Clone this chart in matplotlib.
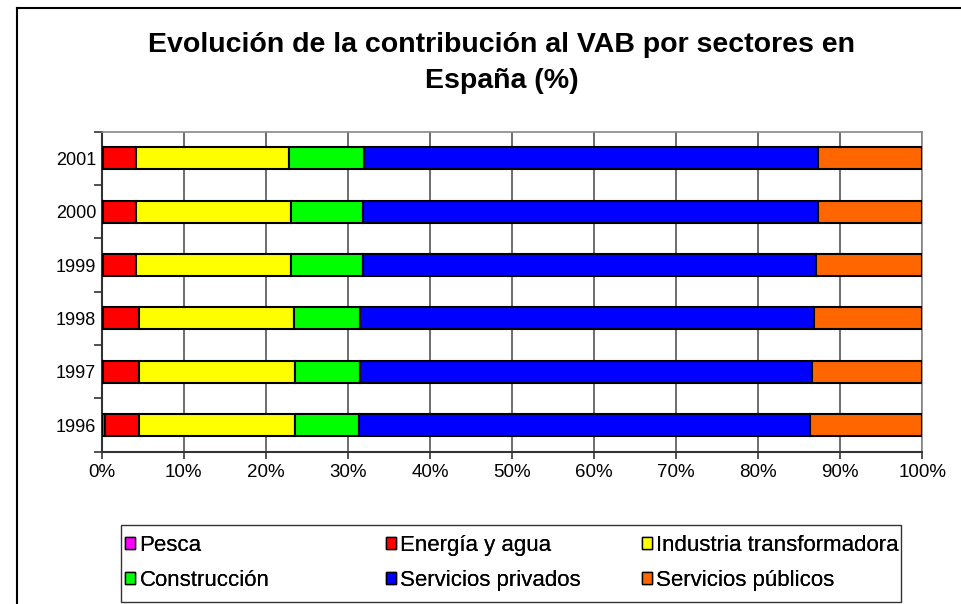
import matplotlib
matplotlib.use("Agg")
import matplotlib.pyplot as plt
from matplotlib.lines import Line2D
from matplotlib.patches import Patch, Rectangle
import numpy as np

plt.rcParams['font.family'] = ['Liberation Sans', 'DejaVu Sans']

years = ["1996", "1997", "1998", "1999", "2000", "2001"]
sectors = ["Pesca", "Energía y agua", "Industria transformadora",
           "Construcción", "Servicios privados", "Servicios públicos"]
pesca = [0.4, 0.1, 0.1, 0.1, 0.1, 0.1]
energia = [4.1, 4.4, 4.4, 4.1, 4.1, 4.1]
industria = [19.0, 19.0, 18.9, 18.9, 18.9, 18.6]
construccion = [7.8, 8.0, 8.1, 8.7, 8.7, 9.2]
serv_privados = [55.0, 55.1, 55.3, 55.3, 55.5, 55.3]
serv_publicos = [13.7, 13.4, 13.2, 12.9, 12.7, 12.7]
colors = ["#FF00FF", "#FF0000", "#FFFF00", "#00FF00", "#0000FF", "#FF6600"]
xticks = [0, 10, 20, 30, 40, 50, 60, 70, 80, 90, 100]
title = "Evolución de la contribución al VAB por sectores en\nEspaña (%)"

W, H = 962, 604
fig = plt.figure(figsize=(W / 100, H / 100), dpi=100)
ax = fig.add_axes([101.7 / W, 1 - 451.7 / H, (922.3 - 101.7) / W, (451.7 - 131.7) / H])

series = [pesca, energia, industria, construccion, serv_privados, serv_publicos]
data = np.array(series, dtype=float)
totals = data.sum(axis=0)
pct = data / totals * 100
y = np.arange(len(years))
left = np.zeros(len(years))
handles = []
for vals, col, name in zip(pct, colors, sectors):
    ax.barh(y, vals, left=left, height=0.41, color=col, edgecolor="black",
            linewidth=1.5, zorder=3)
    left += vals
    handles.append(Patch(facecolor=col, edgecolor="black", linewidth=1.0, label=name))

ax.set_xlim(0, 100)
ax.set_ylim(-0.5, len(years) - 0.5)
ax.set_xticks(xticks)
ax.set_xticklabels([f"{v}%" for v in xticks], fontsize=13.5)
ax.set_yticks(np.arange(-0.5, len(years), 1.0))
ax.set_yticklabels([])
ax.set_yticks(y, minor=True)
ax.set_yticklabels(years, minor=True, fontsize=13)
ax.tick_params(axis="y", which="minor", length=0, pad=4)
ax.tick_params(axis="y", which="major", length=6, width=1.2, color="#333333")
ax.tick_params(axis="x", which="major", length=5, width=1.2, color="#333333", pad=4)
ax.grid(axis="x", color="#555555", linewidth=1.2, zorder=0)
ax.set_axisbelow(True)
for s in ["left", "bottom"]:
    ax.spines[s].set_color("#333333")
    ax.spines[s].set_linewidth(1.5)
for s in ["top", "right"]:
    ax.spines[s].set_color("#888888")
    ax.spines[s].set_linewidth(1.2)

fig.text(502 / W, 1 - 63 / H, title, ha="center", va="center", fontsize=20.5,
         fontweight="bold", linespacing=1.45)

# chart area border (left and top visible)
fig.add_artist(Line2D([17 / W, 17 / W], [1 - 8 / H, -0.05], transform=fig.transFigure,
                      color="black", linewidth=1.5))
fig.add_artist(Line2D([17 / W, 1.05], [1 - 8 / H, 1 - 8 / H], transform=fig.transFigure,
                      color="black", linewidth=1.5))

# legend frame
fig.add_artist(Rectangle((121 / W, 1 - 602 / H), 780 / W, 77 / H, transform=fig.transFigure,
                         facecolor="none", edgecolor="#333333", linewidth=1.0))
col_x = [125, 386, 642]
columns = [[0, 3], [1, 4], [2, 5]]
for cx, idx in zip(col_x, columns):
    lg = fig.legend([handles[i] for i in idx], [sectors[i] for i in idx],
                    loc="upper left", bbox_to_anchor=(cx / W, 1 - 535 / H),
                    frameon=False, fontsize=16, handlelength=0.45, handleheight=0.45,
                    handletextpad=0.2, labelspacing=0.63, borderaxespad=0, borderpad=0)
    fig.add_artist(lg)

fig.savefig("out.png", dpi=100, facecolor="white")
